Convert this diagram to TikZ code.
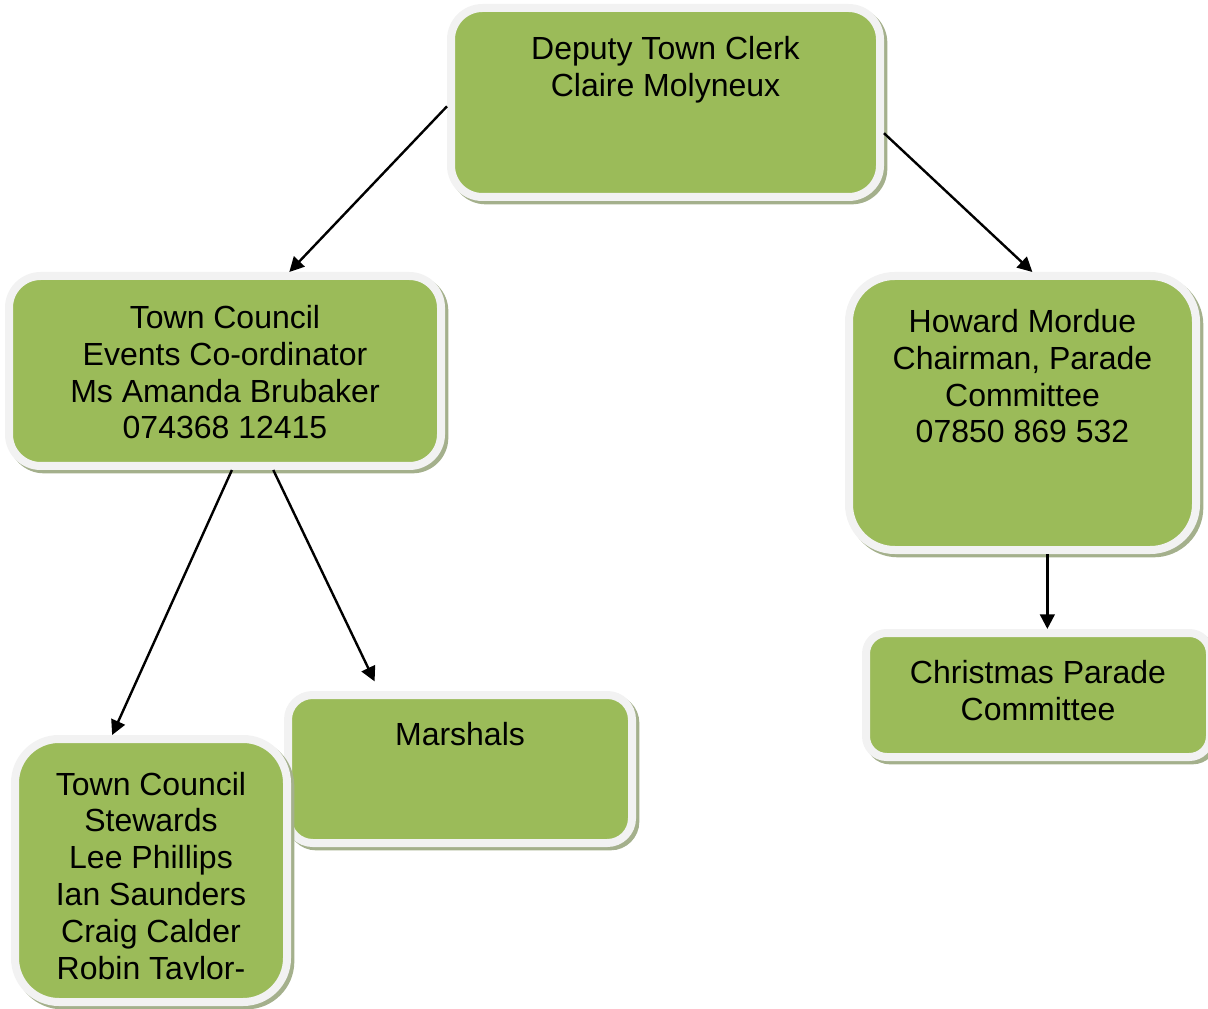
\documentclass[tikz,border=0pt]{standalone}
\usepackage{fontspec}
\setmainfont{Liberation Sans}
\usepackage{xcolor}
\usepackage{tikz}
\usetikzlibrary{arrows.meta,shadows}
\usetikzlibrary{positioning}

\definecolor{boxgreen}{RGB}{155,187,89}
\definecolor{boxrim}{RGB}{242,242,242}
\definecolor{boxshade}{RGB}{164,176,140}

\begin{document}
\begin{tikzpicture}[x=0.75pt,y=0.75pt,yscale=-1,xscale=1,
  orgbox/.style={draw=boxrim, fill=boxgreen, line width=6pt, inner sep=0pt,
    drop shadow={shadow xshift=2.5pt, shadow yshift=-2.5pt, opacity=1,
      fill=boxshade, draw=boxshade, line width=6pt}},
  boxtext/.style={anchor=north, inner sep=0pt, align=center, text=black,
    font=\fontsize{24}{27.6}\selectfont},
  orgarrow/.style={-{Triangle[length=11pt,width=11pt]}, line width=1.8pt, black}]
%set diagram to 1208 x 1009
\useasboundingbox (0,0) rectangle (1208,1009);

% Boxes
\node [orgbox, minimum width=321.75pt, minimum height=141.75pt, rounded corners=23.6pt] (deputy) at (665.5,102.5) {};
\node [orgbox, minimum width=324pt, minimum height=142.5pt, rounded corners=23.75pt] (events) at (225,371) {};
\node [orgbox, minimum width=260.25pt, minimum height=205.5pt, rounded corners=34.25pt] (howard) at (1022.5,413) {};
\node [orgbox, minimum width=258pt, minimum height=93pt, rounded corners=15.5pt] (parade) at (1038,695) {};
\node [orgbox, minimum width=258pt, minimum height=111pt, rounded corners=18.5pt] (marshals) at (460,769) {};
\node [orgbox, minimum width=204pt, minimum height=197.25pt, rounded corners=32.9pt] (stewards) at (151,870.5) {};

% Text Node
\node [boxtext, below=24.3pt of deputy.north] (deputyText) {Deputy Town Clerk\\Claire Molyneux};
% Text Node
\node [boxtext, below=24.8pt of events.north] (eventsText) {Town Council\\Events Co-ordinator\\Ms Amanda Brubaker\\074368 12415};
% Text Node
\node [boxtext, below=27.8pt of howard.north] (howardText) {Howard Mordue\\Chairman, Parade\\Committee\\07850 869 532};
% Text Node
\node [boxtext, below=23.3pt of parade.north] (paradeText) {Christmas Parade\\Committee};
% Text Node
\node [boxtext, below=23.3pt of marshals.north] (marshalsText) {Marshals};
% Text Node (cut off at the foot, as in the box)
\begin{scope}
\clip (0,0) rectangle (1208,979);
\node [boxtext, below=27.5pt of stewards.north] (stewardsText) {Town Council\\Stewards\\Lee Phillips\\Ian Saunders\\Craig Calder\\Robin Taylor-};
\end{scope}

%Straight Lines
\draw [orgarrow] (deputy.181) -- (events.57);
\draw [orgarrow] (deputy.-8) -- (howard.86);
\draw [orgarrow] (events.-86) -- (stewards.106);
\draw [orgarrow, shorten >=8pt] (events.-64) -- (marshals.136);
\draw [orgarrow] (howard.-80) -- (howard.-80 |- parade.north);

\end{tikzpicture}
\end{document}
